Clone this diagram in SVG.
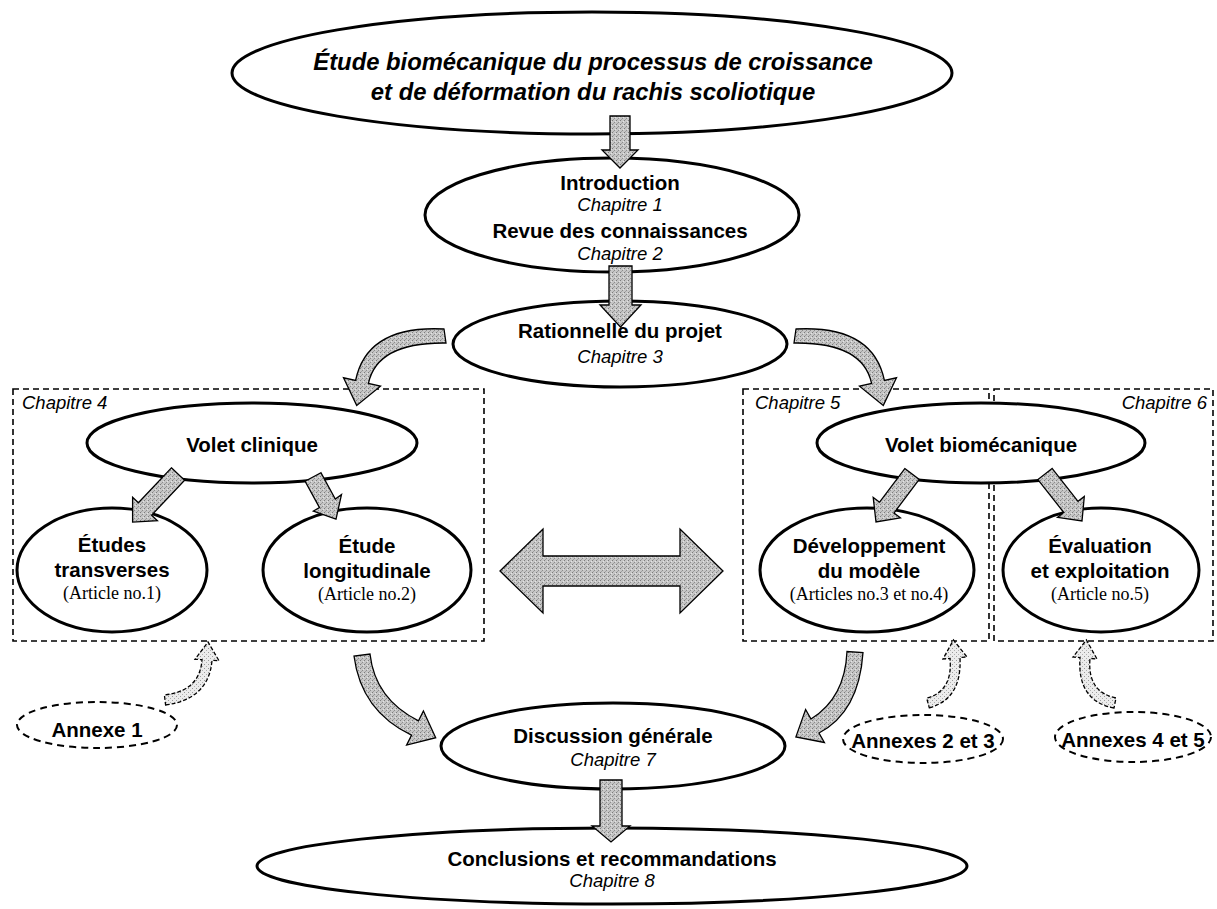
<svg xmlns="http://www.w3.org/2000/svg" width="1217" height="909" viewBox="0 0 1217 909">
<defs>
<pattern id="stip" width="4" height="4" patternUnits="userSpaceOnUse">
<rect width="4" height="4" fill="#c6c6c6"/>
<rect x="0" y="0" width="1" height="1" fill="#7c7c7c"/>
<rect x="2" y="2" width="1" height="1" fill="#8c8c8c"/>
<rect x="3" y="1" width="1" height="1" fill="#e4e4e4"/>
<rect x="1" y="3" width="1" height="1" fill="#a0a0a0"/>
</pattern>
<pattern id="stipL" width="4" height="4" patternUnits="userSpaceOnUse">
<rect width="4" height="4" fill="#ececec"/>
<rect x="0" y="0" width="1" height="1" fill="#9a9a9a"/>
<rect x="2" y="2" width="1" height="1" fill="#b0b0b0"/>
</pattern>
</defs>
<style>
.node{fill:#fff;stroke:#000;stroke-width:3}
.ann{fill:#fff;stroke:#000;stroke-width:2;stroke-dasharray:7 5}
.box{fill:none;stroke:#000;stroke-width:1.6;stroke-dasharray:6 4}
.arr{fill:url(#stip);stroke:#000;stroke-width:1.3;stroke-linejoin:miter}
.darr{fill:url(#stipL);stroke:#000;stroke-width:1.3;stroke-dasharray:4 2}
.b{font-family:"Liberation Sans",Arial,sans-serif;font-weight:bold;font-size:20.5px;text-anchor:middle;fill:#000}
.bi{font-family:"Liberation Sans",Arial,sans-serif;font-weight:bold;font-style:italic;font-size:23.8px;text-anchor:middle;fill:#000}
.i{font-family:"Liberation Sans",Arial,sans-serif;font-style:italic;font-size:18.5px;text-anchor:middle;fill:#000}
.s{font-family:"Liberation Serif","Times New Roman",serif;font-size:18px;text-anchor:middle;fill:#000}
</style>

<g id="boxes">
<rect id="box-ch4" class="box" x="13" y="389" width="471" height="252"/>
<rect id="box-ch5" class="box" x="743" y="389" width="246" height="252"/>
<rect id="box-ch6" class="box" x="994" y="389" width="219" height="252"/>
<text class="i" x="22" y="409" style="text-anchor:start">Chapitre 4</text>
<text class="i" x="755" y="409" style="text-anchor:start">Chapitre 5</text>
<text class="i" x="1207" y="409" style="text-anchor:end">Chapitre 6</text>
</g>

<g id="n-title">
<ellipse class="node" cx="592" cy="73" rx="360" ry="61"/>
<text class="bi" x="593" y="70">Étude biomécanique du processus de croissance</text>
<text class="bi" x="593" y="100">et de déformation du rachis scoliotique</text>
</g>

<g id="n-intro">
<ellipse class="node" cx="612" cy="215" rx="187" ry="57"/>
<text class="b" x="620" y="190">Introduction</text>
<text class="i" x="620" y="211">Chapitre 1</text>
<text class="b" x="620" y="238">Revue des connaissances</text>
<text class="i" x="620" y="260">Chapitre 2</text>
</g>

<g id="n-rationnelle">
<ellipse class="node" cx="620" cy="344" rx="167" ry="43"/>
<text class="b" x="620" y="338">Rationnelle du projet</text>
<text class="i" x="620" y="363">Chapitre 3</text>
</g>

<g id="n-clinique">
<ellipse class="node" cx="252" cy="443" rx="165" ry="40"/>
<text class="b" x="252" y="452">Volet clinique</text>
</g>

<g id="n-transverses">
<ellipse class="node" cx="112" cy="570" rx="95" ry="62"/>
<text class="b" x="112" y="552">Études</text>
<text class="b" x="112" y="577">transverses</text>
<text class="s" x="112" y="599">(Article no.1)</text>
</g>

<g id="n-longitudinale">
<ellipse class="node" cx="367" cy="570" rx="104" ry="62"/>
<text class="b" x="367" y="553">Étude</text>
<text class="b" x="367" y="578">longitudinale</text>
<text class="s" x="367" y="600">(Article no.2)</text>
</g>

<g id="n-biomecanique">
<ellipse class="node" cx="981" cy="443" rx="164" ry="40"/>
<text class="b" x="981" y="452">Volet biomécanique</text>
</g>

<g id="n-developpement">
<ellipse class="node" cx="867" cy="570" rx="107" ry="62"/>
<text class="b" x="869" y="553">Développement</text>
<text class="b" x="869" y="578">du modèle</text>
<text class="s" x="869" y="600">(Articles no.3 et no.4)</text>
</g>

<g id="n-evaluation">
<ellipse class="node" cx="1101" cy="570" rx="98" ry="62"/>
<text class="b" x="1100" y="553">Évaluation</text>
<text class="b" x="1100" y="578">et exploitation</text>
<text class="s" x="1100" y="600">(Article no.5)</text>
</g>

<g id="n-annexe1">
<ellipse class="ann" cx="97" cy="725" rx="80" ry="23"/>
<text class="b" x="97" y="737">Annexe 1</text>
</g>

<g id="n-annexe23">
<ellipse class="ann" cx="923" cy="739" rx="80" ry="24"/>
<text class="b" x="923" y="748">Annexes 2 et 3</text>
</g>

<g id="n-annexe45">
<ellipse class="ann" cx="1133" cy="737" rx="78" ry="25"/>
<text class="b" x="1133" y="747">Annexes 4 et 5</text>
</g>

<g id="n-discussion">
<ellipse class="node" cx="613" cy="746" rx="172" ry="43"/>
<text class="b" x="613" y="743">Discussion générale</text>
<text class="i" x="613" y="766">Chapitre 7</text>
</g>

<g id="n-conclusions">
<ellipse class="node" cx="612" cy="866" rx="355" ry="38"/>
<text class="b" x="612" y="866">Conclusions et recommandations</text>
<text class="i" x="612" y="887">Chapitre 8</text>
</g>

<g id="connectors">
<path class="arr" d="M610,116 H630 V150 H638 L620,168 L602,150 H610 Z"/>
<path class="arr" d="M609,266 H632 V305 H641 L620.5,327 L600,305 H609 Z"/>
<path class="arr" d="M600,780 H622 V826 H630 L611,842 L592,826 H600 Z"/>
<path class="arr" d="M171.4,467.8 L184.6,480.2 L151.6,515.2 L157.4,520.7 L132.6,522.1 L132.6,497.3 L138.4,502.8 Z"/>
<path class="arr" d="M320.9,472.7 L305.1,481.3 L319.5,507.6 L313.4,511 L336,519.1 L341.5,494.6 L335.3,499 Z"/>
<path class="arr" d="M904.8,468.6 L919.2,479.4 L894,513 L900.4,517.8 L876,522 L873.2,497.4 L879.6,502.2 Z"/>
<path class="arr" d="M1052.1,468.4 L1037.9,479.6 L1063.8,512.5 L1057.5,517.4 L1082,521 L1084.3,496.4 L1078,501.3 Z"/>
<path class="arr" d="M500,571 L543,529 V556 H680 V529 L723,571 L680,613 V586 H543 V613 Z"/>
<path class="arr" d="M444,329 Q367,325 355.6,380.5 L343.5,377.8 L356.7,405.4 L380.5,386.2 L368.4,383.5 Q377,342 446,343 Z"/>
<path class="arr" d="M796,329 Q873,325 884.4,380.5 L896.5,377.8 L883.3,405.4 L859.5,386.2 L871.6,383.5 Q863,342 794,343 Z"/>
<path class="arr" d="M354,656 Q361,711 411.5,735.2 L406.6,745.1 L435.7,737.7 L423.4,710.9 L418.5,720.8 Q375,699 370,654 Z"/>
<path class="arr" d="M863,652.5 Q859,712 819,733 L824.4,742.5 L795.9,736.9 L805.6,709.5 L811,719 Q845,698 847,651.5 Z"/>
<path class="darr" d="M165.6,705 Q209,699 212,660.3 L219,660.7 L208,642 L195,659.3 L202,659.7 Q200,691 164.4,695 Z"/>
<path class="darr" d="M929.3,707.8 Q962,699 960,657.6 L967,657 L953.5,640 L943,659 L950,658.4 Q953,691 926.7,698.2 Z"/>
<path class="darr" d="M1114,708 Q1077,701 1080,657.6 L1073,657 L1086.4,640 L1097,659 L1090,658.4 Q1087,692 1116,698 Z"/>
</g>
</svg>
